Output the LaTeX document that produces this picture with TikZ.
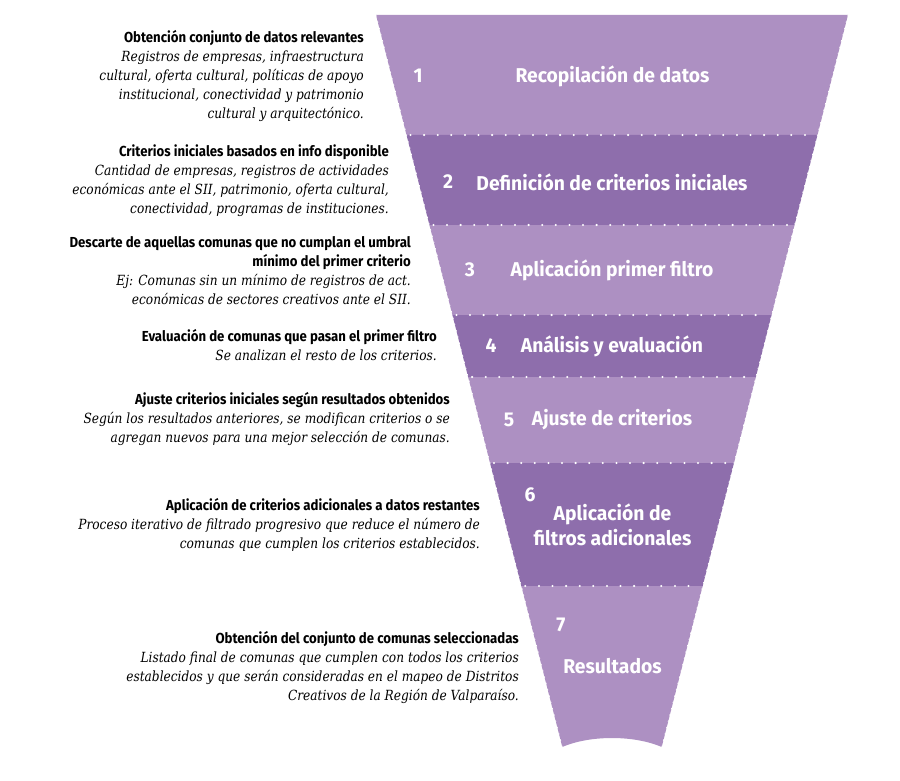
\documentclass[tikz,border=0pt]{standalone}
\usepackage{fontspec}
\newfontfamily\headfont[FakeStretch=0.91]{Fira Sans}
\newfontfamily\labfont[FakeStretch=0.965]{Fira Sans}
\newfontfamily\bodyfont[FakeStretch=0.87]{DejaVu Serif}
\definecolor{lightp}{RGB}{173,144,194}
\definecolor{darkp}{RGB}{142,110,172}
\newcommand\hd[1]{{\headfont\bfseries\fontsize{14.5}{19}\selectfont #1}}
\newcommand\ds[1]{{\bodyfont\itshape\fontsize{14}{19}\selectfont #1}}
\begin{document}
\begin{tikzpicture}[x=1pt,y=-1pt,
  desc/.style={align=right,anchor=base east,inner sep=0pt,font=\fontsize{14}{19}\selectfont},
  num/.style={text=white,inner sep=0pt,font=\labfont\bfseries\fontsize{20}{25}\selectfont},
  title/.style={text=white,inner sep=0pt,align=center,font=\labfont\bfseries\fontsize{20}{25}\selectfont},
  dotline/.style={white,line width=2.3pt,line cap=round,dash pattern=on 0pt off 13.6pt},
  rough/.style={white,line width=0.7pt,dash pattern=on 1.5pt off 5pt}]
\useasboundingbox (0,0) rectangle (900,781);
% funnel corners
\coordinate (L0) at (376,15);   \coordinate (R0) at (848,15);
\coordinate (L1) at (406.5,135);\coordinate (R1) at (817.5,135);
\coordinate (L2) at (429.4,225);\coordinate (R2) at (794.6,225);
\coordinate (L3) at (452.4,315);\coordinate (R3) at (771.6,315);
\coordinate (L4) at (468.1,377);\coordinate (R4) at (755.9,377);
\coordinate (L5) at (490.0,463);\coordinate (R5) at (734.0,463);
\coordinate (L6) at (521.3,586);\coordinate (R6) at (702.7,586);
\coordinate (L7) at (562.3,747);\coordinate (R7) at (661.7,747);
% bands
\fill[lightp] (L0) -- (R0) -- (R1) -- (L1) -- cycle;
\fill[darkp]  (L1) -- (R1) -- (R2) -- (L2) -- cycle;
\fill[lightp] (L2) -- (R2) -- (R3) -- (L3) -- cycle;
\fill[darkp]  (L3) -- (R3) -- (R4) -- (L4) -- cycle;
\fill[lightp] (L4) -- (R4) -- (R5) -- (L5) -- cycle;
\fill[darkp]  (L5) -- (R5) -- (R6) -- (L6) -- cycle;
\fill[lightp] (L6) -- (R6) -- (R7) .. controls (634,735) and (590,735) .. (L7) -- cycle;
% rough edges
\draw[rough] (L0) -- (L7);
\draw[rough] (R0) -- (R7);
% dotted separators
\foreach \i in {1,...,6} {\draw[dotline] ([xshift=4pt]L\i) -- ([xshift=-4pt]R\i);}
% funnel labels
\node[num] (n1) at (418,76) {1};
\node[title] (s1) at (612.5,76) {Recopilación de datos};
\node[num] (n2) at (448,182) {2};
\node[title] (s2) at (612,182) {Definición de criterios iniciales};
\node[num] (n3) at (470,270) {3};
\node[title] (s3) at (612,270) {Aplicación primer filtro};
\node[num] (n4) at (491,346) {4};
\node[title] (s4) at (612,346) {Análisis y evaluación};
\node[num] (n5) at (509,420) {5};
\node[title] (s5) at (612,420) {Ajuste de criterios};
\node[num] (n6) at (530,495) {6};
\node[title] (s6) at (612.5,525) {Aplicación de\\filtros adicionales};
\node[num] (n7) at (561,625) {7};
\node[title] (s7) at (612.5,666) {Resultados};
% descriptions (anchored at the baseline of the last line)
\node[desc] (d1) at (364,119) {\hd{Obtención conjunto de datos relevantes}\\
  \ds{Registros de empresas, infraestructura}\\
  \ds{cultural, oferta cultural, políticas de apoyo}\\
  \ds{institucional, conectividad y patrimonio}\\
  \ds{cultural y arquitectónico.}};
\node[desc] (d2) at (389,213) {\hd{Criterios iniciales basados en info disponible}\\
  \ds{Cantidad de empresas, registros de actividades}\\
  \ds{económicas ante el SII, patrimonio, oferta cultural,}\\
  \ds{conectividad, programas de instituciones.}};
\node[desc] (d3) at (411,304) {\hd{Descarte de aquellas comunas que no cumplan el umbral}\\
  \hd{mínimo del primer criterio}\\
  \ds{Ej: Comunas sin un mínimo de registros de act.}\\
  \ds{económicas de sectores creativos ante el SII.}};
\node[desc] (d4) at (437,360) {\hd{Evaluación de comunas que pasan el primer filtro}\\
  \ds{Se analizan el resto de los criterios.}};
\node[desc] (d5) at (450,442) {\hd{Ajuste criterios iniciales según resultados obtenidos}\\
  \ds{Según los resultados anteriores, se modifican criterios o se}\\
  \ds{agregan nuevos para una mejor selección de comunas.}};
\node[desc] (d6) at (480,548) {\hd{Aplicación de criterios adicionales a datos restantes}\\
  \ds{Proceso iterativo de filtrado progresivo que reduce el número de}\\
  \ds{comunas que cumplen los criterios establecidos.}};
\node[desc] (d7) at (519,700) {\hd{Obtención del conjunto de comunas seleccionadas}\\
  \ds{Listado final de comunas que cumplen con todos los criterios}\\
  \ds{establecidos y que serán consideradas en el mapeo de Distritos}\\
  \ds{Creativos de la Región de Valparaíso.}};
\end{tikzpicture}
\end{document}
